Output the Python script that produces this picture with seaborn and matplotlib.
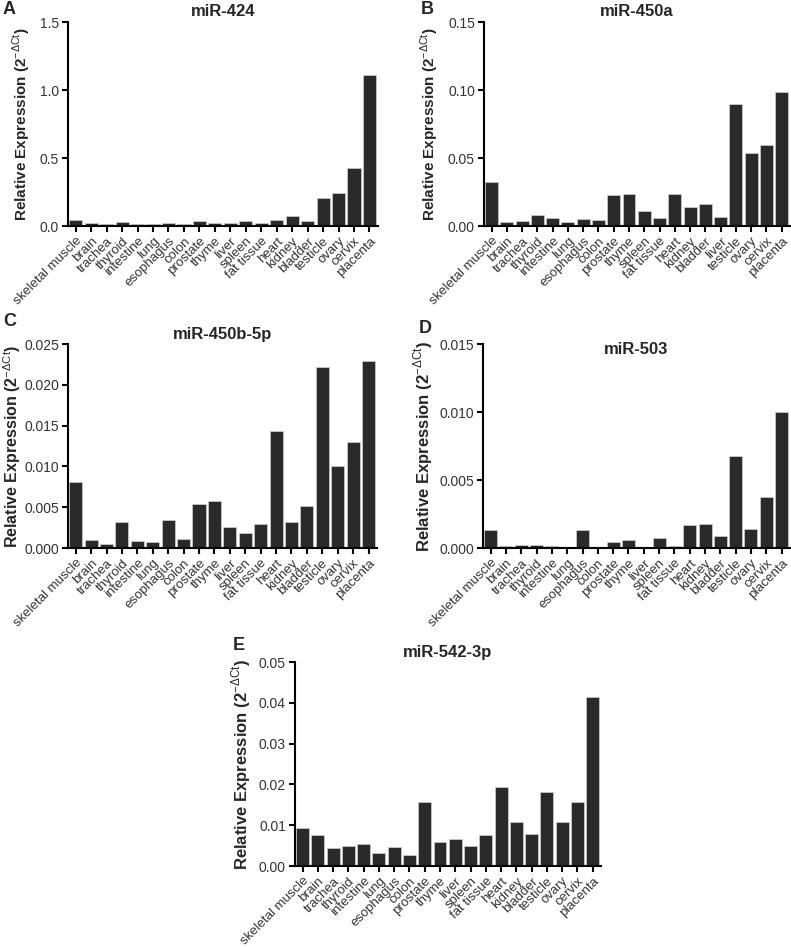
import numpy as np
import pandas as pd
import matplotlib
matplotlib.use("Agg")
import matplotlib.pyplot as plt
import seaborn as sns

# tissue orders (panel B moves liver behind bladder)
tissues = ["skeletal muscle", "brain", "trachea", "thyroid", "intestine", "lung",
           "esophagus", "colon", "prostate", "thyme", "liver", "spleen", "fat tissue",
           "heart", "kidney", "bladder", "testicle", "ovary", "cervix", "placenta"]
tissues_b = ["skeletal muscle", "brain", "trachea", "thyroid", "intestine", "lung",
             "esophagus", "colon", "prostate", "thyme", "spleen", "fat tissue", "heart",
             "kidney", "bladder", "liver", "testicle", "ovary", "cervix", "placenta"]

mir_424 = [0.044, 0.020, 0.012, 0.030, 0.015, 0.012, 0.020, 0.012, 0.039, 0.024,
           0.022, 0.039, 0.024, 0.046, 0.071, 0.037, 0.205, 0.240, 0.423, 1.112]
mir_450a = [0.0326, 0.0027, 0.0034, 0.0078, 0.0061, 0.0027, 0.0051, 0.0042, 0.0230, 0.0233,
            0.0108, 0.0061, 0.0238, 0.0137, 0.0162, 0.0066, 0.0900, 0.0534, 0.0596, 0.0983]
mir_450b = [0.0081, 0.00098, 0.00049, 0.00314, 0.00086, 0.00077, 0.00338, 0.00106, 0.00537, 0.00578,
            0.00252, 0.00183, 0.00289, 0.01429, 0.00322, 0.00517, 0.0222, 0.01006, 0.01303, 0.02292]
mir_503 = [0.00134, 0.00012, 0.00020, 0.00024, 0.00012, 0.00005, 0.00132, 0.00005, 0.00046, 0.00059,
           0.00010, 0.00071, 0.00012, 0.00166, 0.00178, 0.00086, 0.00677, 0.00139, 0.00374, 0.00997]
mir_542 = [0.0093, 0.0076, 0.0043, 0.0048, 0.0055, 0.0033, 0.0046, 0.0026, 0.0156, 0.0059,
           0.0065, 0.0049, 0.0077, 0.0194, 0.0109, 0.0078, 0.0181, 0.0109, 0.0156, 0.0413]

titles = ["miR-424", "miR-450a", "miR-450b-5p", "miR-503", "miR-542-3p"]
letters = ["A", "B", "C", "D", "E"]
yticks = [[0, 0.5, 1.0, 1.5],
          [0, 0.05, 0.10, 0.15],
          [0, 0.005, 0.010, 0.015, 0.020, 0.025],
          [0, 0.005, 0.010, 0.015],
          [0, 0.01, 0.02, 0.03, 0.04, 0.05]]
yfmt = ["{:.1f}", "{:.2f}", "{:.3f}", "{:.3f}", "{:.2f}"]
ylab_size = [11, 11, 11.5, 12, 12]
ylab_pad = [5, 5, 1, 3, 4]

sns.set_style("ticks")
plt.rcParams["font.family"] = ["Liberation Sans", "DejaVu Sans"]
plt.rcParams["mathtext.fontset"] = "custom"
plt.rcParams["mathtext.rm"] = "Liberation Sans"
plt.rcParams["mathtext.bf"] = "Liberation Sans:bold"

W, H = 791, 947
fig = plt.figure(figsize=(W / 100, H / 100), dpi=100)

# axes boxes in pixels: left, top, right, bottom
boxes = [(68, 22, 378, 226), (484, 22, 790, 226),
         (68, 344, 377, 548), (483, 344, 790, 548),
         (295, 662, 601, 866)]
letter_pos = [(3, 10), (421, 9), (3, 322), (419, 328), (233, 645)]
title_y = [22, 22, 344, 360, 662]

data = [(tissues, mir_424), (tissues_b, mir_450a), (tissues, mir_450b),
        (tissues, mir_503), (tissues, mir_542)]

for i, ((cats, vals), box) in enumerate(zip(data, boxes)):
    l, t, r, b = box
    ax = fig.add_axes([l / W, 1 - b / H, (r - l) / W, (b - t) / H])
    df = pd.DataFrame({"tissue": cats, "value": vals})
    sns.barplot(data=df, x="tissue", y="value", color="#2a2a2a", width=0.85,
                edgecolor="#d0d0d0", linewidth=0.5, saturation=1, ax=ax)
    ax.set_xlim(-0.5, len(cats) - 0.45)
    ax.set_ylim(0, yticks[i][-1])
    ax.set_yticks(yticks[i])
    ax.set_yticklabels([yfmt[i].format(v) for v in yticks[i]], fontsize=10, color="#333333")
    ax.set_xticks(range(len(cats)))
    ax.set_xticklabels(cats, rotation=45, ha="right", rotation_mode="anchor",
                       fontsize=9.5, color="#333333")
    ax.set_xlabel("")
    ax.set_ylabel(r"Relative Expression (2$^{\mathrm{-\Delta Ct}}$)", fontsize=ylab_size[i],
                  fontweight="bold", labelpad=ylab_pad[i])
    sns.despine(ax=ax)
    for s in ["left", "bottom"]:
        ax.spines[s].set_linewidth(1.5)
        ax.spines[s].set_color("black")
    ax.tick_params(axis="both", length=4.5, width=1.5, color="black", pad=2)
    fig.text((l + r) / 2 / W, 1 - (title_y[i] - 10) / H, titles[i], ha="center",
             va="center", fontsize=12, fontweight="bold")
    fig.text(letter_pos[i][0] / W, 1 - letter_pos[i][1] / H, letters[i], ha="left",
             va="center", fontsize=13, fontweight="bold")

fig.savefig("out.png", dpi=100)
